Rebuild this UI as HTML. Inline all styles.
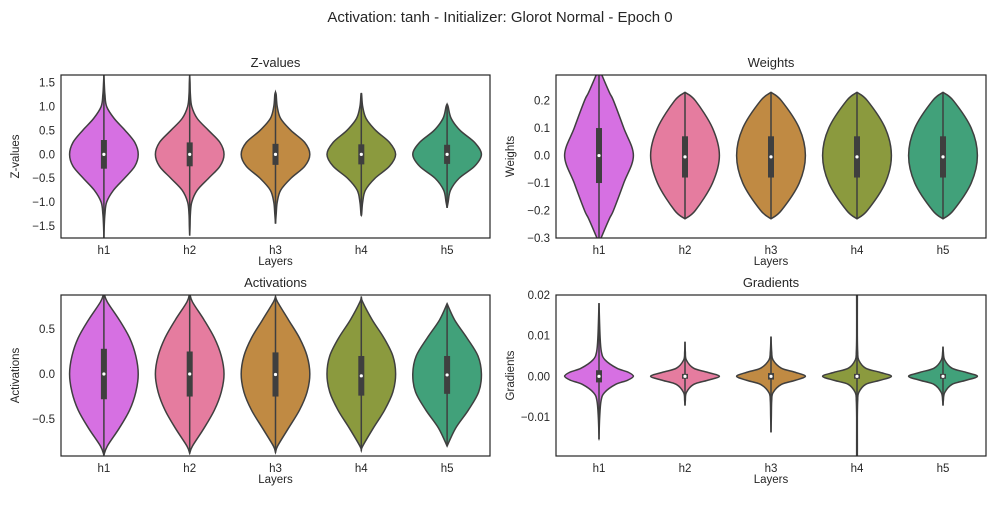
<!DOCTYPE html>
<html><head><meta charset="utf-8"><style>
body{margin:0;background:#fff;}
svg text{font-family:"Liberation Sans","DejaVu Sans",sans-serif;fill:#262626;}
</style></head><body>
<svg id="fig" width="1000" height="500" viewBox="0 0 1000 500">
<text x="500" y="22" font-size="15" text-anchor="middle">Activation: tanh - Initializer: Glorot Normal  - Epoch 0</text>
</svg>
<script>
const categories = ["h1","h2","h3","h4","h5"];
const colors = ["#d670e2","#e57c9f","#c08a43","#8b9a3e","#41a17a"];

// Z-values
const zLevels = [-1.75,-1.5,-1.25,-1,-0.75,-0.5,-0.25,0,0.25,0.5,0.75,1,1.25,1.5,1.66];
const zWidths = [
 [0,0.01,0.03,0.08,0.28,0.6,0.9,1,0.9,0.62,0.3,0.08,0.03,0.01,0],
 [0,0.01,0.02,0.06,0.22,0.55,0.88,1,0.88,0.55,0.22,0.06,0.02,0.01,0],
 [0,0,0.02,0.05,0.15,0.45,0.85,1,0.85,0.45,0.15,0.05,0.02,0,0],
 [0,0,0.01,0.04,0.12,0.4,0.82,1,0.82,0.42,0.14,0.04,0.01,0,0],
 [0,0,0,0.03,0.1,0.35,0.8,1,0.8,0.38,0.12,0.03,0,0,0]];
const zExtent = [[-1.75,1.66],[-1.7,1.66],[-1.45,1.3],[-1.27,1.28],[-1.12,1.05]];
const zBox = [[-0.3,0.3],[-0.25,0.25],[-0.22,0.22],[-0.21,0.21],[-0.2,0.2]];
const zTicks = [-1.5,-1,-0.5,0,0.5,1,1.5];
const zTickLabels = ["\u22121.5","\u22121.0","\u22120.5","0.0","0.5","1.0","1.5"];

// Weights
const wLevels = [-0.32,-0.3,-0.23,-0.2,-0.1,0,0.1,0.2,0.23,0.3,0.32];
const wWidths = [
 [0.02,0.06,0.3,0.42,0.72,1,0.72,0.42,0.3,0.06,0.02],
 [0,0,0.02,0.3,0.8,1,0.8,0.3,0.02,0,0],
 [0,0,0.02,0.3,0.82,1,0.82,0.3,0.02,0,0],
 [0,0,0.02,0.3,0.82,1,0.82,0.3,0.02,0,0],
 [0,0,0.02,0.3,0.82,1,0.82,0.3,0.02,0,0]];
const wExtent = [[-0.32,0.32],[-0.23,0.23],[-0.23,0.23],[-0.23,0.23],[-0.23,0.23]];
const wBox = [[-0.1,0.1],[-0.08,0.07],[-0.08,0.07],[-0.08,0.07],[-0.08,0.07]];
const wTicks = [-0.3,-0.2,-0.1,0,0.1,0.2];
const wTickLabels = ["\u22120.3","\u22120.2","\u22120.1","0.0","0.1","0.2"];

// Activations
const aLevels = [-0.9,-0.8,-0.6,-0.4,-0.2,0,0.2,0.4,0.6,0.8,0.9];
const aWidths = [
 [0,0.1,0.45,0.75,0.93,1,0.93,0.75,0.45,0.1,0],
 [0,0.08,0.42,0.72,0.92,1,0.92,0.72,0.42,0.08,0],
 [0,0.06,0.38,0.7,0.92,1,0.92,0.7,0.38,0.06,0],
 [0,0.04,0.35,0.68,0.92,1,0.92,0.66,0.32,0.04,0],
 [0,0.01,0.25,0.62,0.92,1,0.9,0.58,0.22,0.01,0]];
const aExtent = [[-0.9,0.9],[-0.88,0.9],[-0.87,0.86],[-0.85,0.86],[-0.8,0.78]];
const aBox = [[-0.28,0.28],[-0.25,0.25],[-0.25,0.24],[-0.24,0.2],[-0.22,0.2]];
const aTicks = [-0.5,0,0.5];
const aTickLabels = ["\u22120.5","0.0","0.5"];

// Gradients
const gLevels = [-0.02,-0.015,-0.01,-0.006,-0.004,-0.002,-0.001,0,0.001,0.002,0.004,0.006,0.01,0.018,0.02];
const gWidths = [
 [0,0,0.02,0.06,0.16,0.48,0.82,1,0.85,0.52,0.18,0.07,0.03,0,0],
 [0,0,0,0.01,0.04,0.25,0.65,1,0.65,0.25,0.04,0.01,0,0,0],
 [0,0,0.01,0.02,0.06,0.3,0.7,1,0.7,0.3,0.06,0.02,0.01,0,0],
 [0.01,0.01,0.01,0.02,0.05,0.25,0.66,1,0.66,0.25,0.05,0.02,0.01,0.01,0.01],
 [0,0,0,0.01,0.05,0.26,0.66,1,0.66,0.26,0.05,0.01,0,0,0]];
const gExtent = [[-0.0155,0.018],[-0.0072,0.0085],[-0.0138,0.0098],[-0.021,0.021],[-0.0072,0.0073]];
const gBox = [[-0.0015,0.0015],[-0.0006,0.0006],[-0.0008,0.0008],[-0.0006,0.0006],[-0.0006,0.0006]];
const gTicks = [-0.01,0,0.01,0.02];
const gTickLabels = ["\u22120.01","0.00","0.01","0.02"];

const NS="http://www.w3.org/2000/svg";
const fig=document.getElementById('fig');
function mk(tag,attrs,parent){const e=document.createElementNS(NS,tag);for(const k in attrs)e.setAttribute(k,attrs[k]);(parent||fig).appendChild(e);return e;}

function catmull(pts){
  let d="M"+pts[0][0].toFixed(2)+","+pts[0][1].toFixed(2);
  for(let i=0;i<pts.length-1;i++){
    const p0=pts[Math.max(i-1,0)],p1=pts[i],p2=pts[i+1],p3=pts[Math.min(i+2,pts.length-1)];
    const c1=[p1[0]+(p2[0]-p0[0])/6,p1[1]+(p2[1]-p0[1])/6];
    const c2=[p2[0]-(p3[0]-p1[0])/6,p2[1]-(p3[1]-p1[1])/6];
    d+="C"+c1[0].toFixed(2)+","+c1[1].toFixed(2)+" "+c2[0].toFixed(2)+","+c2[1].toFixed(2)+" "+p2[0].toFixed(2)+","+p2[1].toFixed(2);
  }
  return d;
}

function panel(cfg){
  const {x0,x1,y0,y1,ymin,ymax,levels,widths,extent,box,ticks,tickLabels,title,ylabel,key}=cfg;
  const g=mk('g',{});
  
  
  const clipId='clip-'+key;
  const cp=mk('clipPath',{id:clipId},g);mk('rect',{x:x0,y:y0,width:x1-x0,height:y1-y0},cp);
  const ys=v=>y1-(v-ymin)/(ymax-ymin)*(y1-y0);
  const band=(x1-x0)/categories.length;
  const xs=i=>x0+band*(i+0.5);
  const hw=band*0.4;
  const inner=mk('g',{'clip-path':'url(#'+clipId+')'},g);
  categories.forEach((c,i)=>{
    const cx=xs(i);
    const pts=[[cx,ys(extent[i][0])]];
    levels.forEach((v,j)=>{if(v>extent[i][0]&&v<extent[i][1])pts.push([cx+widths[i][j]*hw,ys(v)]);});
    pts.push([cx,ys(extent[i][1])]);
    const left=pts.slice().reverse().map(p=>[2*cx-p[0],p[1]]);
    const d=catmull(pts)+" L"+catmull(left).slice(1)+"Z";
    const vp=mk('path',{d:d,fill:colors[i],stroke:'#3f3f3f','stroke-width':1.5},inner);
    
    
    const wl=mk('line',{x1:cx,x2:cx,y1:ys(extent[i][0]),y2:ys(extent[i][1]),stroke:'#3f3f3f','stroke-width':1.5},inner);
    
    
    const bx=mk('rect',{x:cx-3,y:ys(box[i][1]),width:6,height:Math.max(ys(box[i][0])-ys(box[i][1]),2),fill:'#3f3f3f'},inner);
    
    
    const md=mk('circle',{cx:cx,cy:ys((box[i][0]+box[i][1])/2),r:1.6,fill:'#fff'},inner);
    
    
    const tl=mk('text',{x:cx,y:y1+16,'font-size':11.5,'text-anchor':'middle'},g);tl.textContent=c;
    
    
  });
  ticks.forEach((t,j)=>{
    const tl=mk('text',{x:x0-6,y:ys(t)+4,'font-size':11.5,'text-anchor':'end'},g);tl.textContent=tickLabels[j];
    
    
  });
  const fr=mk('rect',{x:x0,y:y0,width:x1-x0,height:y1-y0,fill:'none',stroke:'#262626','stroke-width':1.2},g);
  
  
  const tt=mk('text',{x:(x0+x1)/2,y:y0-8,'font-size':13,'text-anchor':'middle'},g);tt.textContent=title;
  
  
  const xl=mk('text',{x:(x0+x1)/2,y:y1+27,'font-size':11.5,'text-anchor':'middle'},g);xl.textContent='Layers';
  
  
  const yx=x0-42,yy=(y0+y1)/2;
  const yl=mk('text',{x:yx,y:yy,'font-size':11.5,'text-anchor':'middle',transform:'rotate(-90 '+yx+' '+yy+')'},g);yl.textContent=ylabel;
  
  
}

panel({key:'zvalues',x0:61,x1:490,y0:75,y1:238,ymin:-1.75,ymax:1.66,levels:zLevels,widths:zWidths,extent:zExtent,box:zBox,ticks:zTicks,tickLabels:zTickLabels,title:'Z-values',ylabel:'Z-values'});
panel({key:'weights',x0:556,x1:986,y0:75,y1:238,ymin:-0.3,ymax:0.293,levels:wLevels,widths:wWidths,extent:wExtent,box:wBox,ticks:wTicks,tickLabels:wTickLabels,title:'Weights',ylabel:'Weights'});
panel({key:'activations',x0:61,x1:490,y0:295,y1:456,ymin:-0.91,ymax:0.877,levels:aLevels,widths:aWidths,extent:aExtent,box:aBox,ticks:aTicks,tickLabels:aTickLabels,title:'Activations',ylabel:'Activations'});
panel({key:'gradients',x0:556,x1:986,y0:295,y1:456,ymin:-0.0196,ymax:0.02,levels:gLevels,widths:gWidths,extent:gExtent,box:gBox,ticks:gTicks,tickLabels:gTickLabels,title:'Gradients',ylabel:'Gradients'});
</script>
</body></html>
